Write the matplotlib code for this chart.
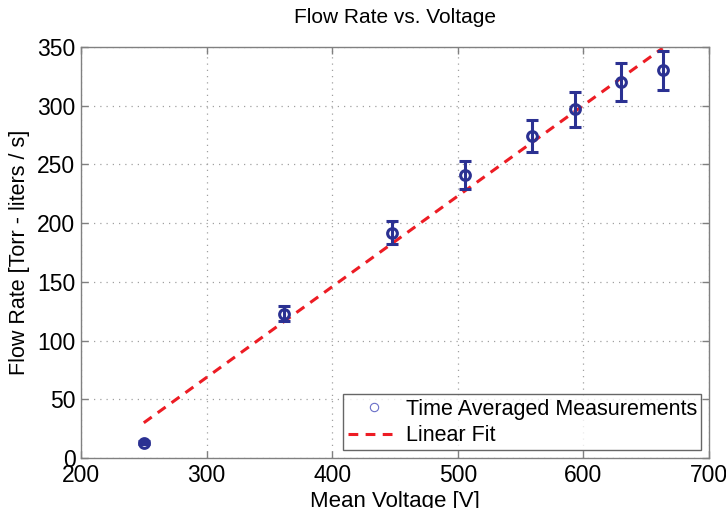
import matplotlib
matplotlib.use("Agg")
import matplotlib.pyplot as plt
from matplotlib.lines import Line2D

plt.rcParams['font.family'] = ['Liberation Sans', 'DejaVu Sans']

voltage = [250, 362, 448, 506, 559, 593, 630, 663]
flow = [13, 123, 192, 241, 274, 297, 320, 330]
flow_err = [1.5, 6.5, 9.5, 12, 13.5, 15, 16, 16.5]

fit_x = [250, 663]
fit_y = [30, 349]

xticks = [200, 300, 400, 500, 600, 700]
yticks = [0, 50, 100, 150, 200, 250, 300, 350]

blue = '#2B3192'
red = '#ED1C24'

fig = plt.figure(figsize=(7.26, 5.08), dpi=100)
ax = fig.add_axes([81/726, 50/508, 628/726, 411/508])

ax.plot(fit_x, fit_y, linestyle=(0, (3.2, 2.4)), color=red, lw=2.2, zorder=2)
ax.errorbar(voltage, flow, yerr=flow_err, fmt='o', ms=7, mfc='none', mec=blue,
            mew=2.2, ecolor=blue, elinewidth=2.2, capsize=4.5, capthick=2.2, zorder=3)

ax.set_xlim(200, 700)
ax.set_ylim(0, 350)
ax.set_xticks(xticks)
ax.set_yticks(yticks)
ax.tick_params(direction='in', length=5, width=1, colors='#808080', labelcolor='black',
               labelsize=16.5, top=True, right=True, pad=4)
for s in ax.spines.values():
    s.set_color('#808080')
    s.set_linewidth(1)
ax.grid(True, linestyle=(0, (1, 4)), color='#A0A0A0', lw=0.9)

ax.set_title('Flow Rate vs. Voltage', fontsize=15, pad=17)
ax.set_xlabel('Mean Voltage [V]', fontsize=16, labelpad=3)
ax.set_ylabel('Flow Rate [Torr - liters / s]', fontsize=15.5, labelpad=5)

h1 = Line2D([], [], marker='o', ls='none', mfc='none', mec='#6A6FC8', ms=6, mew=0.8)
h2 = Line2D([], [], ls=(0, (3.2, 2.4)), color=red, lw=2.2)
leg = ax.legend([h1, h2], ['Time Averaged Measurements', 'Linear Fit'], loc='lower right',
                fontsize=15.5, frameon=True, fancybox=False, edgecolor='#404040',
                borderaxespad=0.35, handlelength=2.4, handletextpad=0.3,
                borderpad=0.2, labelspacing=0.25)
leg.get_frame().set_linewidth(1)

fig.savefig('out.png', dpi=100)
